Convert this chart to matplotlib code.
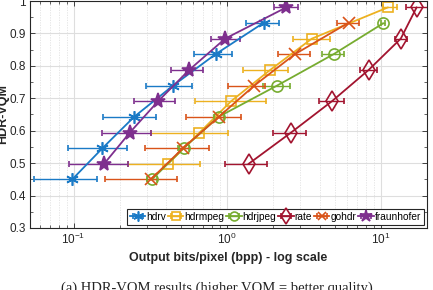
import matplotlib
matplotlib.use("Agg")
import matplotlib.pyplot as plt
from matplotlib.ticker import LogLocator, MultipleLocator, NullFormatter, FixedLocator
import numpy as np

plt.rcParams['font.family'] = ['Liberation Sans Narrow', 'Liberation Sans', 'DejaVu Sans']
plt.rcParams['mathtext.fontset'] = 'custom'
plt.rcParams['mathtext.rm'] = 'Liberation Sans'

series = ["hdrv", "hdrmpeg", "hdrjpeg", "rate", "gohdr", "fraunhofer"]

hdrv_y = [0.450, 0.546, 0.643, 0.739, 0.836, 0.933]
hdrv_x = [0.098, 0.154, 0.248, 0.444, 0.840, 1.73]
hdrv_lo = [0.0553, 0.0914, 0.156, 0.298, 0.604, 1.33]
hdrv_hi = [0.1417, 0.221, 0.342, 0.593, 1.077, 2.19]

hdrmpeg_y = [0.498, 0.594, 0.691, 0.787, 0.884, 0.980]
hdrmpeg_x = [0.412, 0.66, 1.06, 1.90, 3.56, 11.1]
hdrmpeg_lo = [0.226, 0.321, 0.614, 1.26, 2.70, 10.3]
hdrmpeg_hi = [0.661, 1.01, 1.79, 2.50, 4.69, 12.8]

hdrjpeg_y = [0.450, 0.546, 0.643, 0.739, 0.836, 0.931]
hdrjpeg_x = [0.324, 0.52, 0.88, 2.11, 4.93, 10.35]
hdrjpeg_lo = [0.30, 0.48, 0.82, 1.71, 4.12, 10.0]
hdrjpeg_hi = [0.35, 0.56, 0.95, 2.58, 5.78, 10.7]

rate_y = [0.498, 0.594, 0.691, 0.787, 0.884, 0.980]
rate_x = [1.38, 2.60, 4.81, 8.32, 13.5, 17.1]
rate_lo = [0.97, 1.98, 3.94, 7.31, 12.3, 14.5]
rate_hi = [1.81, 3.26, 5.72, 9.52, 14.9, 20.3]

gohdr_y = [0.450, 0.546, 0.643, 0.739, 0.836, 0.933]
gohdr_x = [0.318, 0.515, 0.883, 1.50, 2.76, 6.17]
gohdr_lo = [0.161, 0.290, 0.542, 1.01, 2.13, 5.18]
gohdr_hi = [0.471, 0.767, 1.23, 1.77, 3.46, 7.23]

fraun_y = [0.498, 0.594, 0.691, 0.787, 0.884, 0.980]
fraun_x = [0.158, 0.232, 0.355, 0.564, 0.97, 2.42]
fraun_lo = [0.093, 0.152, 0.248, 0.428, 0.787, 2.03]
fraun_hi = [0.226, 0.318, 0.459, 0.695, 1.22, 2.88]

data = [
    (hdrv_x, hdrv_y, hdrv_lo, hdrv_hi),
    (hdrmpeg_x, hdrmpeg_y, hdrmpeg_lo, hdrmpeg_hi),
    (hdrjpeg_x, hdrjpeg_y, hdrjpeg_lo, hdrjpeg_hi),
    (rate_x, rate_y, rate_lo, rate_hi),
    (gohdr_x, gohdr_y, gohdr_lo, gohdr_hi),
    (fraun_x, fraun_y, fraun_lo, fraun_hi),
]

colors = ["#1a7ac6", "#EDB120", "#77AC30", "#A2142F", "#D95319", "#7E2F8E"]
markers = [(6, 2, 0), "s", "o", "d", "x", "*"]
msizes = [9, 7, 8, 10, 8, 11]
fills = ["none", "none", "none", "none", "none", "full"]

fig = plt.figure(figsize=(4.33, 2.9), dpi=100)
ax = fig.add_axes([30/433, 1-228/290, 397/433, 227/290])

for (x, y, lo, hi), name, c, m, ms, f in zip(data, series, colors, markers, msizes, fills):
    x = np.array(x); lo = np.array(lo); hi = np.array(hi)
    xerr = np.vstack([x - lo, hi - x])
    mfc = c if f == "full" else "none"
    ax.errorbar(x, y, xerr=xerr, color=c, marker=m, markersize=ms, markerfacecolor=mfc,
                markeredgecolor=c, markeredgewidth=1.2, linewidth=1.3, elinewidth=1.0,
                capsize=2.0, capthick=1.0, label=name)

ax.set_xscale("log")
ax.set_xlim(0.052, 20)
ax.set_ylim(0.3, 1.0)
ax.yaxis.set_minor_locator(MultipleLocator(0.05))
ax.set_yticks([0.3, 0.4, 0.5, 0.6, 0.7, 0.8, 0.9, 1.0])
ax.set_yticklabels(["0.3", "0.4", "0.5", "0.6", "0.7", "0.8", "0.9", "1"])
ax.xaxis.set_major_locator(FixedLocator([0.1, 1, 10]))
ax.set_xticklabels(["$10^{-1}$", "$10^{0}$", "$10^{1}$"])
ax.xaxis.set_minor_locator(LogLocator(base=10, subs=np.arange(2, 10)))
ax.xaxis.set_minor_formatter(NullFormatter())

ax.grid(True, which="major", color="#dedede", linewidth=0.8)
ax.grid(True, which="minor", axis="x", color="#e2e2e2", linewidth=0.6, linestyle=(0, (1.5, 1.5)))
ax.set_axisbelow(True)

ax.tick_params(which="both", direction="in", top=True, right=True, labelsize=8.5, colors="#262626", pad=3)
ax.tick_params(which="major", length=3.5, width=0.6)
ax.tick_params(which="minor", length=2.0, width=0.5)
for s in ax.spines.values():
    s.set_color("#262626")
    s.set_linewidth(0.8)

ax.set_xlabel("Output bits/pixel (bpp) - log scale", fontsize=9, fontweight="bold", color="#262626",
              labelpad=3, family=["Liberation Sans", "DejaVu Sans"])
ax.set_ylabel("HDR-VQM", fontsize=9, fontweight="bold", color="#262626",
              family=["Liberation Sans", "DejaVu Sans"])
ax.yaxis.set_label_coords(-0.052, 0.5)

leg = ax.legend(loc="lower right", ncol=6, fontsize=7.3, handlelength=1.5, handletextpad=0.1,
                columnspacing=0.2, borderpad=0.3, borderaxespad=0.3, fancybox=False,
                framealpha=1, edgecolor="#262626", markerscale=0.8)
leg.get_frame().set_linewidth(0.8)

fig.text(0.5, 1 - 282/290, "(a) HDR-VQM results (higher VQM = better quality)", ha="center", va="top",
         fontsize=10.5, family=["Liberation Serif", "DejaVu Serif"], color="#222222")

fig.savefig("out.png", dpi=100)
